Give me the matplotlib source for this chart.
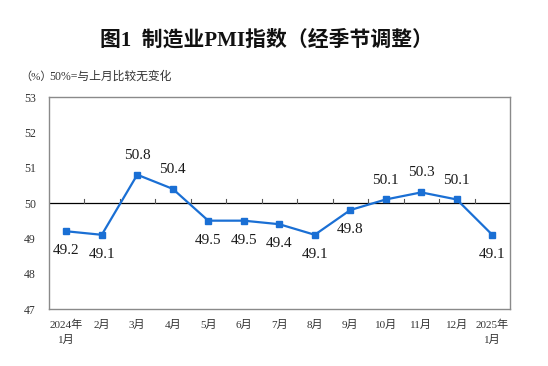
import matplotlib
matplotlib.use("Agg")
import matplotlib.pyplot as plt

plt.rcParams['font.family'] = ['Liberation Serif', 'Noto Sans CJK SC']

months = ["2024年\n1月", "2月", "3月", "4月", "5月", "6月", "7月", "8月",
          "9月", "10月", "11月", "12月", "2025年\n1月"]
pmi = [49.2, 49.1, 50.8, 50.4, 49.5, 49.5, 49.4, 49.1, 49.8, 50.1, 50.3, 50.1, 49.1]
label_above = [False, False, True, True, False, False, False, False, False, True, True, True, False]
yticks = [47, 48, 49, 50, 51, 52, 53]

fig = plt.figure(figsize=(5.48, 3.66), dpi=100)
ax = fig.add_axes([48.5/548, 1 - 309/366, (510 - 48.5)/548, (309 - 97)/366])

x = list(range(len(months)))
color = '#1a6fd4'
ax.plot(x, pmi, color=color, lw=1.6, marker='s', ms=4.5, mec=color, mfc=color, zorder=3)
ax.axhline(50, color='black', lw=0.9, zorder=2)
# small boundary ticks on the 50 line
for i in range(len(months) - 1):
    ax.plot([i + 0.5, i + 0.5], [50, 50.1], color='#555555', lw=0.8, zorder=2)

for xi, v, up in zip(x, pmi, label_above):
    ax.annotate(f"{v:.1f}", (xi, v), xytext=(0, 14 if up else -14),
                textcoords='offset points', ha='center', va='center',
                fontsize=11, color='#1a1a1a')

ax.set_xlim(-0.5, len(months) - 0.5)
ax.set_ylim(47, 53)
ax.set_yticks(yticks)
ax.set_yticklabels([str(t) for t in yticks], fontsize=8.5, color='#333333')
ax.set_xticks(x)
ax.set_xticklabels(months, fontsize=8, color='#333333', linespacing=1.5, va='top')
ax.tick_params(axis='y', length=0, pad=9)
ax.tick_params(axis='x', length=0, pad=8)
for s in ax.spines.values():
    s.set_color('#8a8a8a')
    s.set_linewidth(1.0)

fig.text(0.487, 1 - 40/366, "图1  制造业PMI指数（经季节调整）", ha='center', va='center',
         fontsize=15, fontweight='bold', color='#111111')
fig.text(20/548, 1 - 77/366, "（%）", ha='left', va='center', fontsize=8, color='#333333')
fig.text(49/548, 1 - 77/366, "50%=与上月比较无变化", ha='left', va='center', fontsize=8.5, color='#333333')

fig.savefig("out.png", dpi=100)
